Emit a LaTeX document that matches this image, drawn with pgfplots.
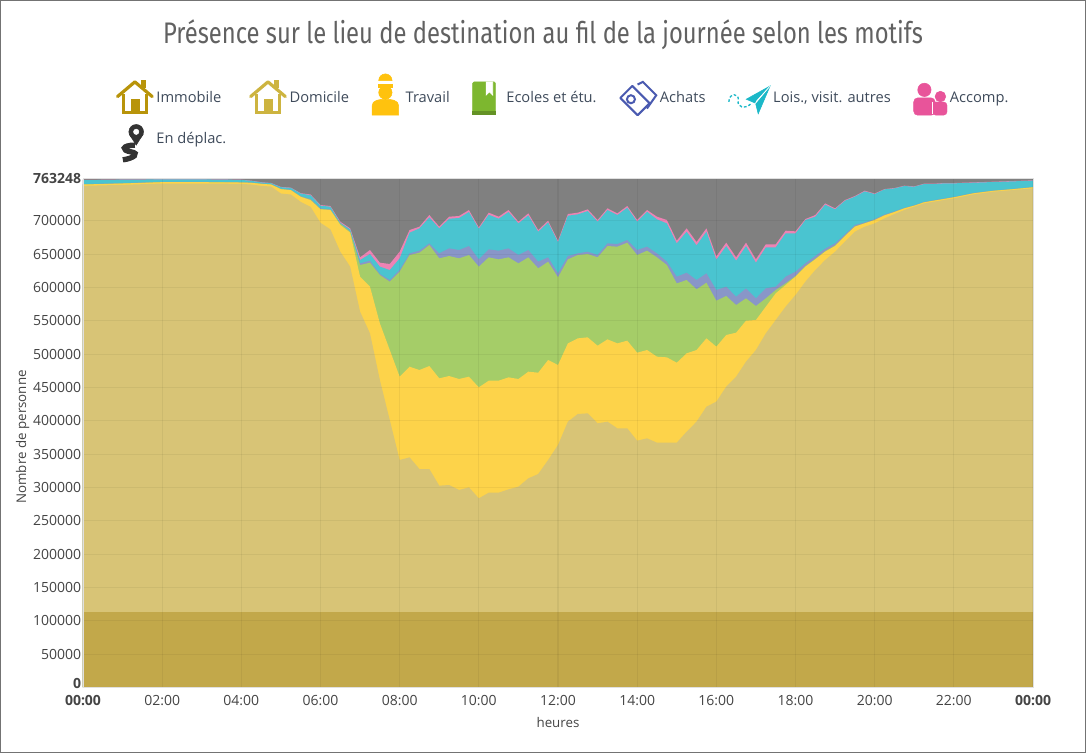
\documentclass[border=0pt]{standalone}
\usepackage{fontspec}
\setmainfont{Open Sans}
\newfontfamily\titlefont[FakeStretch=0.8]{Fira Sans}
\usepackage{pgfplots}
\pgfplotsset{compat=1.18}
\usepackage{pgfplotstable}

\definecolor{cimm}{HTML}{C2A84A}
\definecolor{cdom}{HTML}{D8C476}
\definecolor{ctra}{HTML}{FDD34A}
\definecolor{ceco}{HTML}{A5CD68}
\definecolor{cach}{HTML}{8996C8}
\definecolor{cloi}{HTML}{4AC4D0}
\definecolor{cacc}{HTML}{EE82B4}
\definecolor{cdep}{HTML}{808080}
\definecolor{iimm}{HTML}{B8940A}
\definecolor{idom}{HTML}{CDB440}
\definecolor{itra}{HTML}{FFC20E}
\definecolor{ieco}{HTML}{7DB72F}
\definecolor{iach}{HTML}{4A5AB0}
\definecolor{iloi}{HTML}{1BB8C8}
\definecolor{iacc}{HTML}{E8549A}
\definecolor{idep}{HTML}{333333}
\definecolor{txt}{HTML}{3E4A5A}
\definecolor{tick}{HTML}{444444}

% cumulative tops of each layer (persons present)
\pgfplotstableread{
t dom tra eco ach loi acc
0.00 752500 754500 754700 755000 761000 761300
1.00 754000 756000 756200 756500 761800 762100
2.00 756000 758000 758200 758500 762200 762500
3.00 756000 758000 758200 758500 762200 762500
4.00 755500 757500 757700 758000 761500 761800
4.25 754500 757000 757200 757500 760000 760300
4.50 752500 755500 755700 756000 757700 758000
4.75 751500 754500 754700 755000 756500 756800
5.00 741000 747500 747800 748200 750500 750900
5.25 739500 746000 746300 746700 749500 749900
5.50 728500 736000 736500 737000 741000 741500
5.75 721000 731000 732000 733000 738500 739500
6.00 697000 717250 717750 718750 722750 723750
6.25 687250 716250 716750 717250 721250 722250
6.50 653750 693750 695750 696250 697250 698750
6.75 631250 682250 683750 684250 687250 688750
7.00 563750 616250 633750 636250 641250 645250
7.25 531250 601250 637250 640250 650250 656250
7.50 461250 546250 618750 620250 631250 637250
7.75 401250 506250 608750 611250 626250 635250
8.00 341250 466250 623750 626250 643750 653750
8.25 345250 481250 648750 651250 682250 686250
8.50 327750 476250 652250 655250 688750 691250
8.75 327750 482250 663750 666250 705250 708750
9.00 302750 463750 643750 651250 688750 691250
9.25 303750 467250 647250 658750 703250 706250
9.50 296250 462750 643750 656250 704250 707250
9.75 300250 466250 648750 662250 713250 716250
10.00 283750 450250 631250 642250 688250 690250
10.25 292250 460250 645250 657250 709250 712250
10.50 292250 460250 642250 655250 703250 706250
10.75 297250 465250 645250 658750 713250 716250
11.00 301250 462750 636250 648750 696250 698750
11.25 313750 473750 645250 656250 708250 711250
11.50 320250 472250 628750 638750 683750 686250
11.75 341250 491250 638750 645250 697750 700250
12.00 363750 483750 615250 621250 668250 670250
12.25 398750 516250 642250 647250 707750 710250
12.50 410250 523750 648750 651250 709750 712250
12.75 411250 525250 650250 653750 714750 717250
13.00 396250 512750 645250 648750 698750 701250
13.25 398750 522250 662250 666250 716250 718750
13.50 388750 516250 661250 665250 708750 711250
13.75 388750 520250 667250 671250 719750 722250
14.00 370250 502250 648750 656250 698750 701250
14.25 373750 506250 655250 661250 713750 716250
14.50 367250 496250 645250 651250 702250 706250
14.75 367250 495250 633750 638750 696250 701250
15.00 367250 487250 606250 616250 666250 670250
15.25 383750 501250 611250 622250 683750 688750
15.50 398750 506250 597250 611250 663250 668250
15.75 421250 523750 607250 621250 683750 688750
16.00 428750 511250 580250 596250 641750 646750
16.25 451250 528750 587250 601250 662250 667250
16.50 466250 532250 573750 586250 640250 645250
16.75 488750 550250 583750 598750 662250 667250
17.00 506250 551250 572250 583750 637250 642250
17.25 531250 571250 583750 598750 660250 664750
17.50 551250 591250 596250 601250 660250 664750
17.75 571250 603750 606250 616250 681250 685250
18.00 588750 616250 617250 623750 681250 684250
18.25 608750 631250 632250 636250 701250 702750
18.50 626250 642250 643250 647250 706250 708750
18.75 641250 653750 654750 658250 724250 726250
19.00 653750 662250 663250 666250 717250 718750
19.25 668750 677250 677750 679750 730250 731250
19.50 683750 691250 691750 693750 736250 737250
19.75 691250 696250 696750 697750 744250 745250
20.00 696250 701250 701500 702750 740250 741000
20.25 703750 708250 708500 709500 747250 747750
20.50 710250 713250 713500 714250 748750 749250
20.75 716250 718750 719000 719500 752250 752750
21.00 721250 722750 723000 723500 751250 751750
21.25 726250 727750 728000 728500 755250 755750
21.50 728750 730250 730500 731000 755250 755750
21.75 731250 732750 733000 733500 756250 756750
22.00 733750 735250 735500 736000 756250 756750
22.50 739750 741250 741500 742000 757250 757750
23.00 743750 745000 745200 745500 758250 758750
23.50 746250 747500 747700 748000 759250 759750
24.00 748750 750250 750500 750800 760250 760800
}\data

\begin{document}
\begin{tikzpicture}
\path[use as bounding box] (-62.25pt,-49.125pt) rectangle (752.25pt,515.625pt);
\draw[color=black!55, line width=0.8pt] (-61.6pt,-48.5pt) rectangle (751.6pt,515pt);
\node[font=\titlefont\fontsize{22.3}{26}\selectfont, text=black!62] at (345pt,489.4pt) {Présence sur le lieu de destination au fil de la journée selon les motifs};
\begin{axis}[
  at={(0pt,0pt)}, anchor=south west,
  scale only axis, width=712.5pt, height=381.6pt,
  xmin=0, xmax=24, ymin=0, ymax=763248,
  axis on top,
  axis line style={draw=black!12},
  major tick length=0pt,
  grid=major,
  major grid style={black, opacity=0.05, line width=0.8pt},
  xtick={0,2,...,24},
  xticklabels={\textbf{00:00},02:00,04:00,06:00,08:00,10:00,12:00,14:00,16:00,18:00,20:00,22:00,\textbf{00:00}},
  ytick={0,50000,100000,150000,200000,250000,300000,350000,400000,450000,500000,550000,600000,650000,700000,763248},
  yticklabels={\raisebox{6pt}{\textbf{0}},50000,100000,150000,200000,250000,300000,350000,400000,450000,500000,550000,600000,650000,700000,\textbf{763248}},
  scaled y ticks=false,
  yticklabel style={font=\fontsize{10.5}{12}\selectfont, text=tick, inner sep=1.2pt},
  xticklabel style={font=\fontsize{10.5}{12}\selectfont, text=tick, inner sep=1pt, yshift=-5pt},
  xlabel={heures},
  xlabel style={at={(axis description cs:0.5,-0.068)}, anchor=center, font=\fontsize{10}{12}\selectfont, text=tick},
  ylabel={Nombre de personne},
  ylabel style={at={(axis description cs:-0.0635,0.4925)}, anchor=center, font=\fontsize{10}{12}\selectfont, text=tick},
  legend columns=7,
  legend cell align=left,
  legend style={at={(axis description cs:0,1)}, anchor=north west, xshift=24.5pt, yshift=79pt,
    draw=none, fill=none, inner sep=0pt, row sep=6pt,
    font=\fontsize{11}{13}\selectfont, text=txt,
    nodes={inner sep=2pt},
    /tikz/every even column/.append style={column sep=15pt}},
]
% legend entries
\addlegendimage{legend image code/.code={
  \draw[iimm, line width=2.4pt, line cap=round, line join=round] (0pt,1pt) -- (13pt,12pt) -- (26pt,1pt);
  \draw[iimm, line width=2.2pt] (4.5pt,3pt) -- (4.5pt,-11pt) -- (21.5pt,-11pt) -- (21.5pt,3pt);
  \fill[iimm] (10pt,-11pt) rectangle (16pt,-1pt);
  \fill[iimm] (18pt,8pt) rectangle (21pt,13pt);}}
\addlegendentry{Immobile}
\addlegendimage{legend image code/.code={
  \draw[idom, line width=2.4pt, line cap=round, line join=round] (0pt,1pt) -- (13pt,12pt) -- (26pt,1pt);
  \draw[idom, line width=2.2pt] (4.5pt,3pt) -- (4.5pt,-11pt) -- (21.5pt,-11pt) -- (21.5pt,3pt);
  \fill[idom] (10pt,-11pt) rectangle (16pt,-1pt);
  \fill[idom] (18pt,8pt) rectangle (21pt,13pt);}}
\addlegendentry{Domicile}
\addlegendimage{legend image code/.code={
  \fill[itra] (10pt,4pt) circle (5pt);
  \fill[itra] (4.5pt,8pt) rectangle (15.5pt,10pt);
  \fill[itra] (5pt,13pt) arc[start angle=180,end angle=0,radius=5pt] -- cycle;
  \fill[itra] (0pt,-13pt) -- (0pt,-6pt) to[out=90,in=180] (10pt,-1pt) to[out=0,in=90] (20pt,-6pt) -- (20pt,-13pt) -- cycle;
  \path (23pt,0pt);}}
\addlegendentry{Travail}
\addlegendimage{legend image code/.code={
  \fill[ieco, rounded corners=1pt] (0pt,-12pt) rectangle (17pt,12pt);
  \fill[white] (10pt,12pt) -- (10pt,2pt) -- (12.5pt,4.5pt) -- (15pt,2pt) -- (15pt,12pt) -- cycle;
  \fill[ieco!80!black] (0pt,-12pt) rectangle (17pt,-10pt);
  \path (23pt,0pt);}}
\addlegendentry{Ecoles et étu.}
\addlegendimage{legend image code/.code={
  \draw[iach, line width=1.5pt, line join=round] (0pt,0pt) -- (9pt,9pt) -- (22pt,-4pt) -- (13pt,-13pt) -- cycle;
  \draw[iach, line width=1.5pt] (8pt,-1pt) circle (3pt);
  \draw[iach, line width=1.5pt] (13pt,10pt) -- (17pt,12pt) -- (27pt,2pt) -- (20pt,-8pt);}}
\addlegendentry{Achats}
\addlegendimage{legend image code/.code={
  \draw[iloi, line width=1pt, dash pattern=on 2pt off 1.5pt] (0pt,-3pt) .. controls (0pt,4pt) and (8pt,4pt) .. (7pt,-2pt) .. controls (6pt,-7pt) and (12pt,-9pt) .. (17pt,-4pt);
  \fill[iloi] (13pt,-1pt) -- (31pt,9pt) -- (22pt,-12pt) -- (20pt,-4pt) -- cycle;
  \fill[white] (20pt,-4pt) -- (31pt,9pt) -- (21pt,-2pt) -- cycle;}}
\addlegendentry{Lois., visit. autres}
\addlegendimage{legend image code/.code={
  \fill[iacc] (8pt,6pt) circle (5pt);
  \fill[iacc, rounded corners=3pt] (0pt,-13pt) rectangle (16pt,0pt);
  \fill[iacc] (20pt,1pt) circle (4pt);
  \draw[iacc, fill=iacc, rounded corners=2.5pt, line width=0.1pt] (14pt,-13pt) rectangle (25pt,-3pt);
  \draw[white, line width=1pt] (14pt,-12pt) -- (14pt,-3pt);}}
\addlegendentry{Accomp.}
\addlegendimage{legend image code/.code={
  \fill[idep] (14pt,5pt) circle (5.5pt);
  \fill[idep] (9pt,3pt) -- (14pt,-5pt) -- (19pt,3pt) -- cycle;
  \fill[white] (14pt,5pt) circle (2pt);
  \draw[idep, line width=4pt] (13pt,-5pt) .. controls (3pt,-5pt) and (3pt,-9pt) .. (10pt,-10pt) .. controls (17pt,-11pt) and (12pt,-15pt) .. (4pt,-16pt);}}
\addlegendentry{En déplac.}
% stacked layers, drawn from the top boundary down
\addplot[fill=cdep, draw=none, forget plot] coordinates {(0,763248) (24,763248)} \closedcycle;
\addplot[fill=cacc, draw=none, forget plot] table[x=t,y=acc]{\data} \closedcycle;
\addplot[fill=cloi, draw=none, forget plot] table[x=t,y=loi]{\data} \closedcycle;
\addplot[fill=cach, draw=none, forget plot] table[x=t,y=ach]{\data} \closedcycle;
\addplot[fill=ceco, draw=none, forget plot] table[x=t,y=eco]{\data} \closedcycle;
\addplot[fill=ctra, draw=none, forget plot] table[x=t,y=tra]{\data} \closedcycle;
\addplot[fill=cdom, draw=none, forget plot] table[x=t,y=dom]{\data} \closedcycle;
\addplot[fill=cimm, draw=none, forget plot] coordinates {(0,114000) (24,114000)} \closedcycle;
\draw[black!70, line width=0.6pt] (rel axis cs:0,0) -- (rel axis cs:0,1);
\end{axis}
\end{tikzpicture}
\end{document}
